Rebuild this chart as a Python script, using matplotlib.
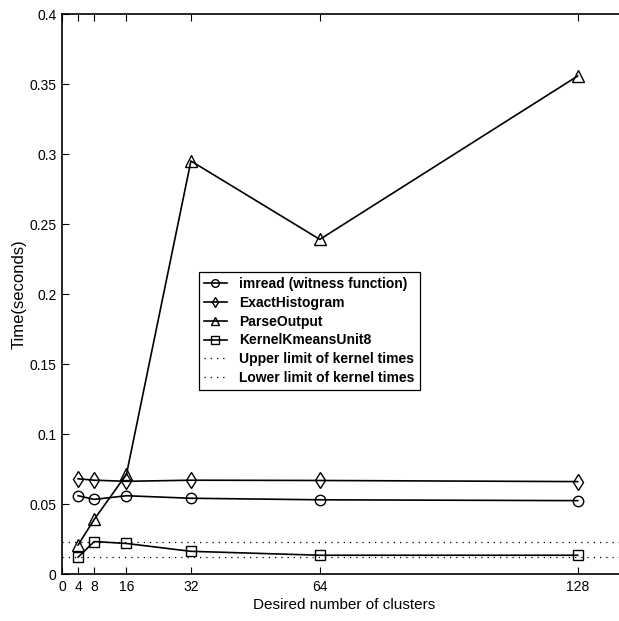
import matplotlib
matplotlib.use("Agg")
import matplotlib.pyplot as plt

plt.rcParams['font.family'] = ['Liberation Sans', 'DejaVu Sans']

# data
clusters = [4, 8, 16, 32, 64, 128]
imread_t = [0.0559, 0.0533, 0.0559, 0.0541, 0.0530, 0.0524]
exact_hist = [0.0680, 0.0670, 0.0662, 0.0670, 0.0668, 0.0660]
parse_output = [0.0207, 0.0390, 0.0712, 0.2950, 0.2390, 0.3557]
kernel_kmeans = [0.0120, 0.0232, 0.0218, 0.0162, 0.0134, 0.0134]
upper_limit = 0.0232
lower_limit = 0.0120

xticks = [0, 4, 8, 16, 32, 64, 128]
yticks = [0, 0.05, 0.1, 0.15, 0.2, 0.25, 0.3, 0.35, 0.4]
ytick_labels = ['0', '0.05', '0.1', '0.15', '0.2', '0.25', '0.3', '0.35', '0.4']

W, H = 619, 621
fig = plt.figure(figsize=(W / 100, H / 100), dpi=100)
# axes run past the right edge of the image, as in the reference
ax = fig.add_axes([62 / W, (H - 574) / H, 564 / W, 560 / H])

mk = dict(color='black', linewidth=1.2, markerfacecolor='none',
          markeredgecolor='black', markeredgewidth=1.0)
ax.plot(clusters, imread_t, marker='o', markersize=7.5, label='imread (witness function)', **mk)
ax.plot(clusters, exact_hist, marker='d', markersize=8.5, label='ExactHistogram', **mk)
ax.plot(clusters, parse_output, marker='^', markersize=8, label='ParseOutput', **mk)
ax.plot(clusters, kernel_kmeans, marker='s', markersize=6.5, label='KernelKmeansUnit8', **mk)
ax.axhline(upper_limit, color='black', linestyle=(0, (1, 4)), linewidth=0.9,
           label='Upper limit of kernel times')
ax.axhline(lower_limit, color='black', linestyle=(0, (1, 4)), linewidth=0.9,
           label='Lower limit of kernel times')

ax.set_xlim(0, 140)
ax.set_ylim(0, 0.4)
ax.set_xticks(xticks)
ax.set_yticks(yticks)
ax.set_yticklabels(ytick_labels)
ax.tick_params(direction='in', length=5, width=0.8, labelsize=10, top=True,
               pad=4)
for s in ax.spines.values():
    s.set_linewidth(1.2)

ax.set_xlabel('Desired number of clusters', fontsize=11, labelpad=3)
ax.set_ylabel('Time(seconds)', fontsize=12, labelpad=2)

leg = ax.legend(loc='upper left', bbox_to_anchor=((199 - 62) / 564, (574 - 272) / 560),
                borderaxespad=0, frameon=True, fancybox=False, edgecolor='black',
                framealpha=1, handlelength=1.65, handletextpad=0.9, borderpad=0.35,
                labelspacing=0.35, prop={'weight': 'bold', 'size': 10})
leg.get_frame().set_linewidth(0.9)
for h in leg.get_lines():
    h.set_markersize(5.5)

fig.savefig('out.png', dpi=100)
